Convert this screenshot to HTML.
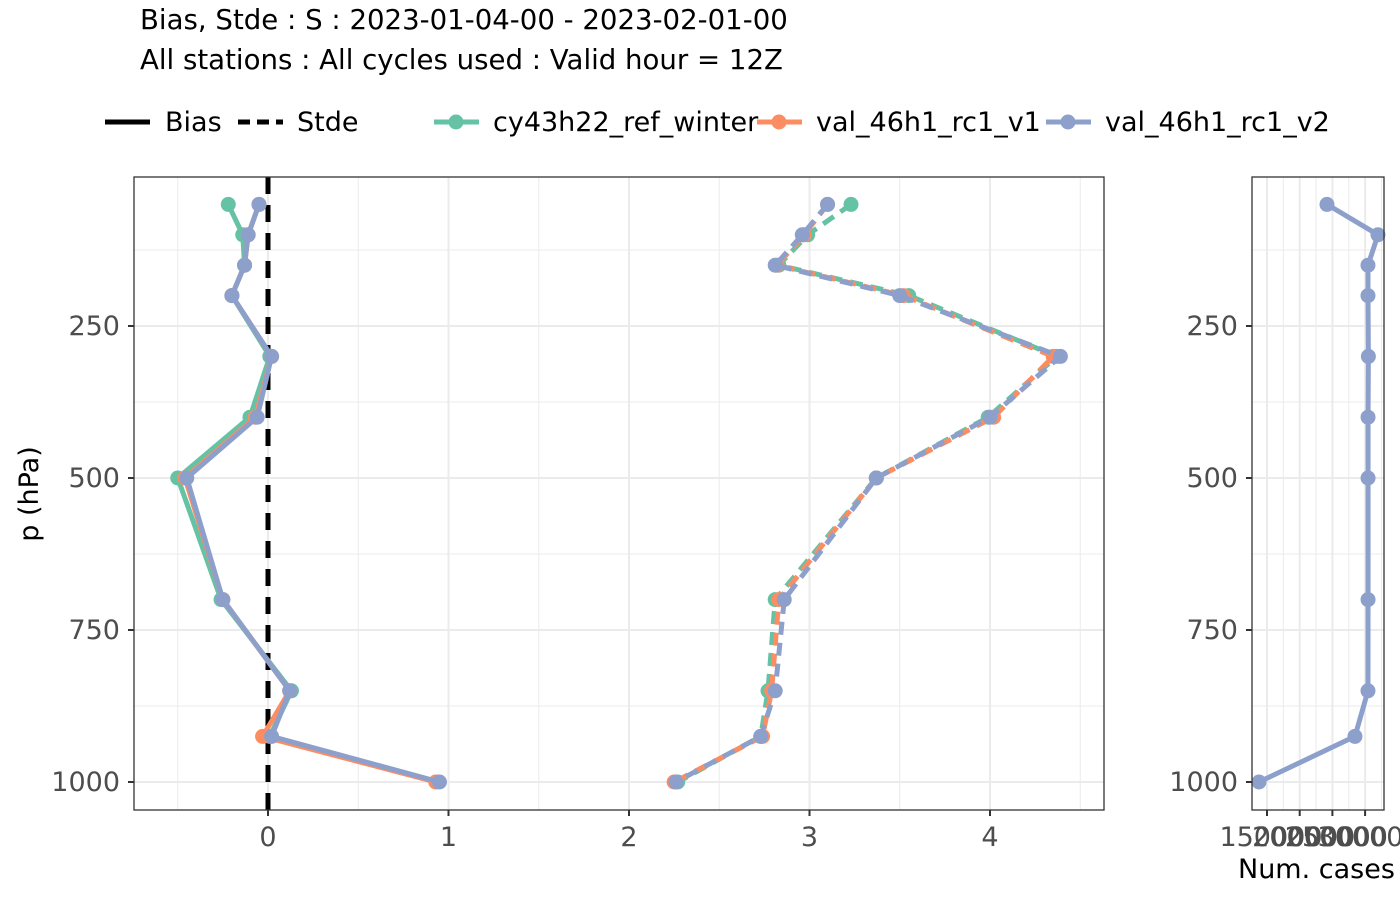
<!DOCTYPE html>
<html><head><meta charset="utf-8"><style>body{margin:0;background:#fff}svg text{font-family:"DejaVu Sans","Liberation Sans",sans-serif}</style></head>
<body>
<svg id="c" width="1400" height="900" xmlns="http://www.w3.org/2000/svg">
<text x="140" y="29" font-size="27.6" fill="#000">Bias, Stde : S : 2023-01-04-00 - 2023-02-01-00</text>
<text x="140" y="69" font-size="27.6" fill="#000">All stations : All cycles used : Valid hour = 12Z</text>
<g id="legend"></g>
<g id="main"></g>
<g id="side"></g>
<text transform="translate(38,494) rotate(-90)" text-anchor="middle" font-size="27">p (hPa)</text>
<text x="1238" y="878" font-size="27">Num. cases</text>
</svg>
<script>
const levels=[50,100,150,200,300,400,500,700,850,925,1000];
const seriesNames=["cy43h22_ref_winter","val_46h1_rc1_v1","val_46h1_rc1_v2"];
const colors=["#66c2a5","#fc8d62","#8da0cb"];
const biasGreen=[-0.22,-0.14,-0.13,-0.2,0.01,-0.1,-0.5,-0.26,0.13,0.01,0.93];
const biasOrange=[-0.05,-0.11,-0.13,-0.2,0.02,-0.07,-0.46,-0.25,0.12,-0.03,0.93];
const biasBlue=[-0.05,-0.11,-0.13,-0.2,0.02,-0.06,-0.45,-0.25,0.12,0.02,0.95];
const stdeGreen=[3.23,2.99,2.83,3.55,4.37,3.99,3.37,2.81,2.77,2.73,2.27];
const stdeOrange=[3.1,2.97,2.82,3.52,4.35,4.02,3.37,2.83,2.79,2.74,2.25];
const stdeBlue=[3.1,2.96,2.81,3.5,4.39,4.0,3.37,2.86,2.81,2.73,2.26];
const cases=[241700,319700,304400,304400,305000,304500,304500,304500,304400,284500,137800];
const xTicks=[0,1,2,3,4];
const yTicks=[250,500,750,1000];
const caseTicks=[150000,200000,250000,300000];
const NS="http://www.w3.org/2000/svg";
function mk(p,t,a){const e=document.createElementNS(NS,t);for(const k in a)e.setAttribute(k,a[k]);p.appendChild(e);return e;}
const X=v=>268+v*180.5, Y=p=>326+(p-250)*0.608, XC=n=>1267+(n-150000)*32.7/50000;
const main=document.getElementById('main'), side=document.getElementById('side'), leg=document.getElementById('legend');
for(let v=-0.5;v<=4.5;v+=0.5){const l=mk(main,'line',{x1:X(v),x2:X(v),y1:177,y2:810,stroke:'#ebebeb','stroke-width':Number.isInteger(v)?2:1});}
for(let p=125;p<=1000;p+=125){const l=mk(main,'line',{x1:134,x2:1104,y1:Y(p),y2:Y(p),stroke:'#ebebeb','stroke-width':p%250==0?2:1});}
const zl=mk(main,'line',{x1:X(0),x2:X(0),y1:177,y2:810,stroke:'#000','stroke-width':5,'stroke-dasharray':'17,11'});

const biasS=[biasGreen,biasOrange,biasBlue], stdeS=[stdeGreen,stdeOrange,stdeBlue];
for(let s=0;s<3;s++){
 const b=mk(main,'polyline',{points:levels.map((p,i)=>X(biasS[s][i])+','+Y(p)).join(' '),fill:'none',stroke:colors[s],'stroke-width':5});
 
 const d=mk(main,'polyline',{points:levels.map((p,i)=>X(stdeS[s][i])+','+Y(p)).join(' '),fill:'none',stroke:colors[s],'stroke-width':5,'stroke-dasharray':'13,8'});
 
 levels.forEach((p,i)=>{
  const c1=mk(main,'circle',{cx:X(biasS[s][i]),cy:Y(p),r:7.5,fill:colors[s]});
  const c2=mk(main,'circle',{cx:X(stdeS[s][i]),cy:Y(p),r:7.5,fill:colors[s]});
 });
}
const fr=mk(main,'rect',{x:134,y:177,width:970,height:633,fill:'none',stroke:'#333','stroke-width':1.3});

xTicks.forEach(v=>{mk(main,'line',{x1:X(v),x2:X(v),y1:810,y2:816,stroke:'#333','stroke-width':2});const t=mk(main,'text',{x:X(v),y:846,'text-anchor':'middle','font-size':27,fill:'#4d4d4d'});t.textContent=v;});
yTicks.forEach(p=>{mk(main,'line',{x1:128,x2:134,y1:Y(p),y2:Y(p),stroke:'#333','stroke-width':2});const t=mk(main,'text',{x:120,y:Y(p)+9,'text-anchor':'end','font-size':27,fill:'#4d4d4d'});t.textContent=p;});
for(let n=125000;n<=325000;n+=25000){const xx=XC(n);if(xx<1252||xx>1384)continue;const l=mk(side,'line',{x1:xx,x2:xx,y1:177,y2:810,stroke:'#ebebeb','stroke-width':n%50000==0?2:1});}
for(let p=125;p<=1000;p+=125){mk(side,'line',{x1:1252,x2:1384,y1:Y(p),y2:Y(p),stroke:'#ebebeb','stroke-width':p%250==0?2:1});}
const cl=mk(side,'polyline',{points:levels.map((p,i)=>XC(cases[i])+','+Y(p)).join(' '),fill:'none',stroke:colors[2],'stroke-width':5});

levels.forEach((p,i)=>{const c=mk(side,'circle',{cx:XC(cases[i]),cy:Y(p),r:7.5,fill:colors[2]});});
const fr2=mk(side,'rect',{x:1252,y:177,width:132,height:633,fill:'none',stroke:'#333','stroke-width':1.3});

caseTicks.forEach(n=>{mk(side,'line',{x1:XC(n),x2:XC(n),y1:810,y2:816,stroke:'#333','stroke-width':2});const t=mk(side,'text',{x:XC(n)+4,y:846,'text-anchor':'middle','font-size':27,fill:'#4d4d4d'});t.textContent=n;});
yTicks.forEach(p=>{mk(side,'line',{x1:1246,x2:1252,y1:Y(p),y2:Y(p),stroke:'#333','stroke-width':2});const t=mk(side,'text',{x:1238,y:Y(p)+9,'text-anchor':'end','font-size':27,fill:'#4d4d4d'});t.textContent=p;});
mk(leg,'line',{x1:105,x2:150,y1:122,y2:122,stroke:'#000','stroke-width':5});
let t=mk(leg,'text',{x:165,y:131,'font-size':27});t.textContent='Bias';
mk(leg,'line',{x1:238,x2:283,y1:122,y2:122,stroke:'#000','stroke-width':5,'stroke-dasharray':'12,7'});
t=mk(leg,'text',{x:297,y:131,'font-size':27});t.textContent='Stde';
const lx=[434,757,1046];
seriesNames.forEach((n,s)=>{mk(leg,'line',{x1:lx[s],x2:lx[s]+45,y1:122,y2:122,stroke:colors[s],'stroke-width':5});mk(leg,'circle',{cx:lx[s]+22,cy:122,r:7.5,fill:colors[s]});const e=mk(leg,'text',{x:lx[s]+59,y:131,'font-size':27});e.textContent=n;});
</script>
</body></html>
